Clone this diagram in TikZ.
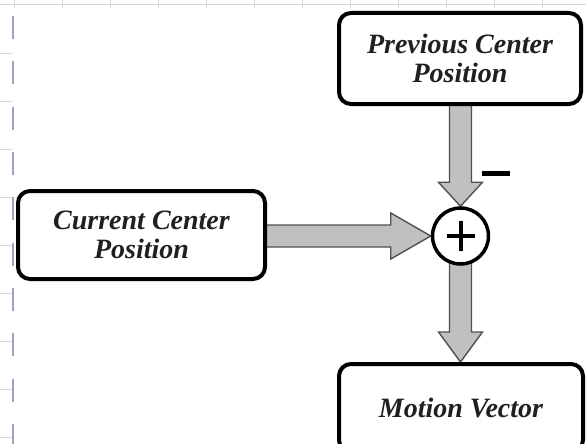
\documentclass[tikz,border=0pt]{standalone}
\usepackage{fontspec}
\setmainfont{Liberation Serif}
\usetikzlibrary{calc,backgrounds}
\definecolor{gridgray}{HTML}{D6D6D6}
\definecolor{tickblue}{HTML}{A0A0C0}
\definecolor{arrowfill}{HTML}{C0C0C0}
\definecolor{arrowline}{HTML}{505050}
\definecolor{inkdark}{HTML}{231F20}
\begin{document}
\begin{tikzpicture}[x=1pt,y=-1pt,
  blk/.style={draw=black, line width=4pt, rounded corners=12pt, fill=white,
    align=center, inner sep=0pt, text=inkdark,
    font=\fontsize{28}{29}\selectfont\bfseries\itshape},
  sumnode/.style={circle, draw=black, line width=3.5pt, fill=white,
    minimum size=56pt, inner sep=0pt},
  barrow/.style={fill=arrowfill, draw=arrowline, line width=1.4pt, line join=miter},
  gridln/.style={gridgray, line width=1pt},
  gridtick/.style={tickblue, line width=2pt}]
\useasboundingbox (0,0) rectangle (586,444);
\clip (0,0) rectangle (586,444);

% sheet gridlines along the top and left margins
\draw[gridln] (0,5) -- (586,5);
\foreach \x in {14,62,...,542} \draw[gridln] (\x,0) -- (\x,8);
\foreach \k in {1,...,9} \draw[gridln] (0,{5+48.1*\k}) -- (12,{5+48.1*\k});
\foreach \k in {0,...,9} \draw[gridtick] (13,{16+45.35*\k}) -- (13,{39+45.35*\k});

% blocks
\node[blk, minimum width=242pt, minimum height=91pt] (prev) at (460,58.5) {Previous Center\\Position};
\node[blk, minimum width=247pt, minimum height=88pt] (curr) at (141.5,235) {Current Center\\Position};
\node[blk, minimum width=244pt, minimum height=88pt] (motion) at (461,408) {Motion Vector};

% summing junction
\node[sumnode] (sum) at (460.5,236) {};
\draw[line width=4pt] ($(sum.center)+(-14,0)$) -- ($(sum.center)+(14,0)$);
\draw[line width=4pt] ($(sum.center)+(0,-15)$) -- ($(sum.center)+(0,15)$);

% minus sign on the subtracted input
\node[fill=black, minimum width=28pt, minimum height=5pt, inner sep=0pt] (minus) at (496,173) {};

% block arrows
\begin{scope}[on background layer]
  \draw[barrow] ($(prev.south -| sum.north)+(-11,-4)$) -- ($(sum.north)+(-11,-24)$)
    -- ($(sum.north)+(-22,-24)$) -- (sum.north) -- ($(sum.north)+(22,-24)$)
    -- ($(sum.north)+(11,-24)$) -- ($(prev.south -| sum.north)+(11,-4)$) -- cycle;
  \draw[barrow] ($(curr.east |- sum.west)+(-4,-11)$) -- ($(sum.west)+(-40,-11)$)
    -- ($(sum.west)+(-40,-23)$) -- (sum.west) -- ($(sum.west)+(-40,23)$)
    -- ($(sum.west)+(-40,11)$) -- ($(curr.east |- sum.west)+(-4,11)$) -- cycle;
  \draw[barrow] ($(sum.south)+(-11,-4)$) -- ($(motion.north -| sum.south)+(-11,-30)$)
    -- ($(motion.north -| sum.south)+(-22,-30)$) -- (motion.north -| sum.south)
    -- ($(motion.north -| sum.south)+(22,-30)$) -- ($(motion.north -| sum.south)+(11,-30)$)
    -- ($(sum.south)+(11,-4)$) -- cycle;
\end{scope}
\end{tikzpicture}
\end{document}
